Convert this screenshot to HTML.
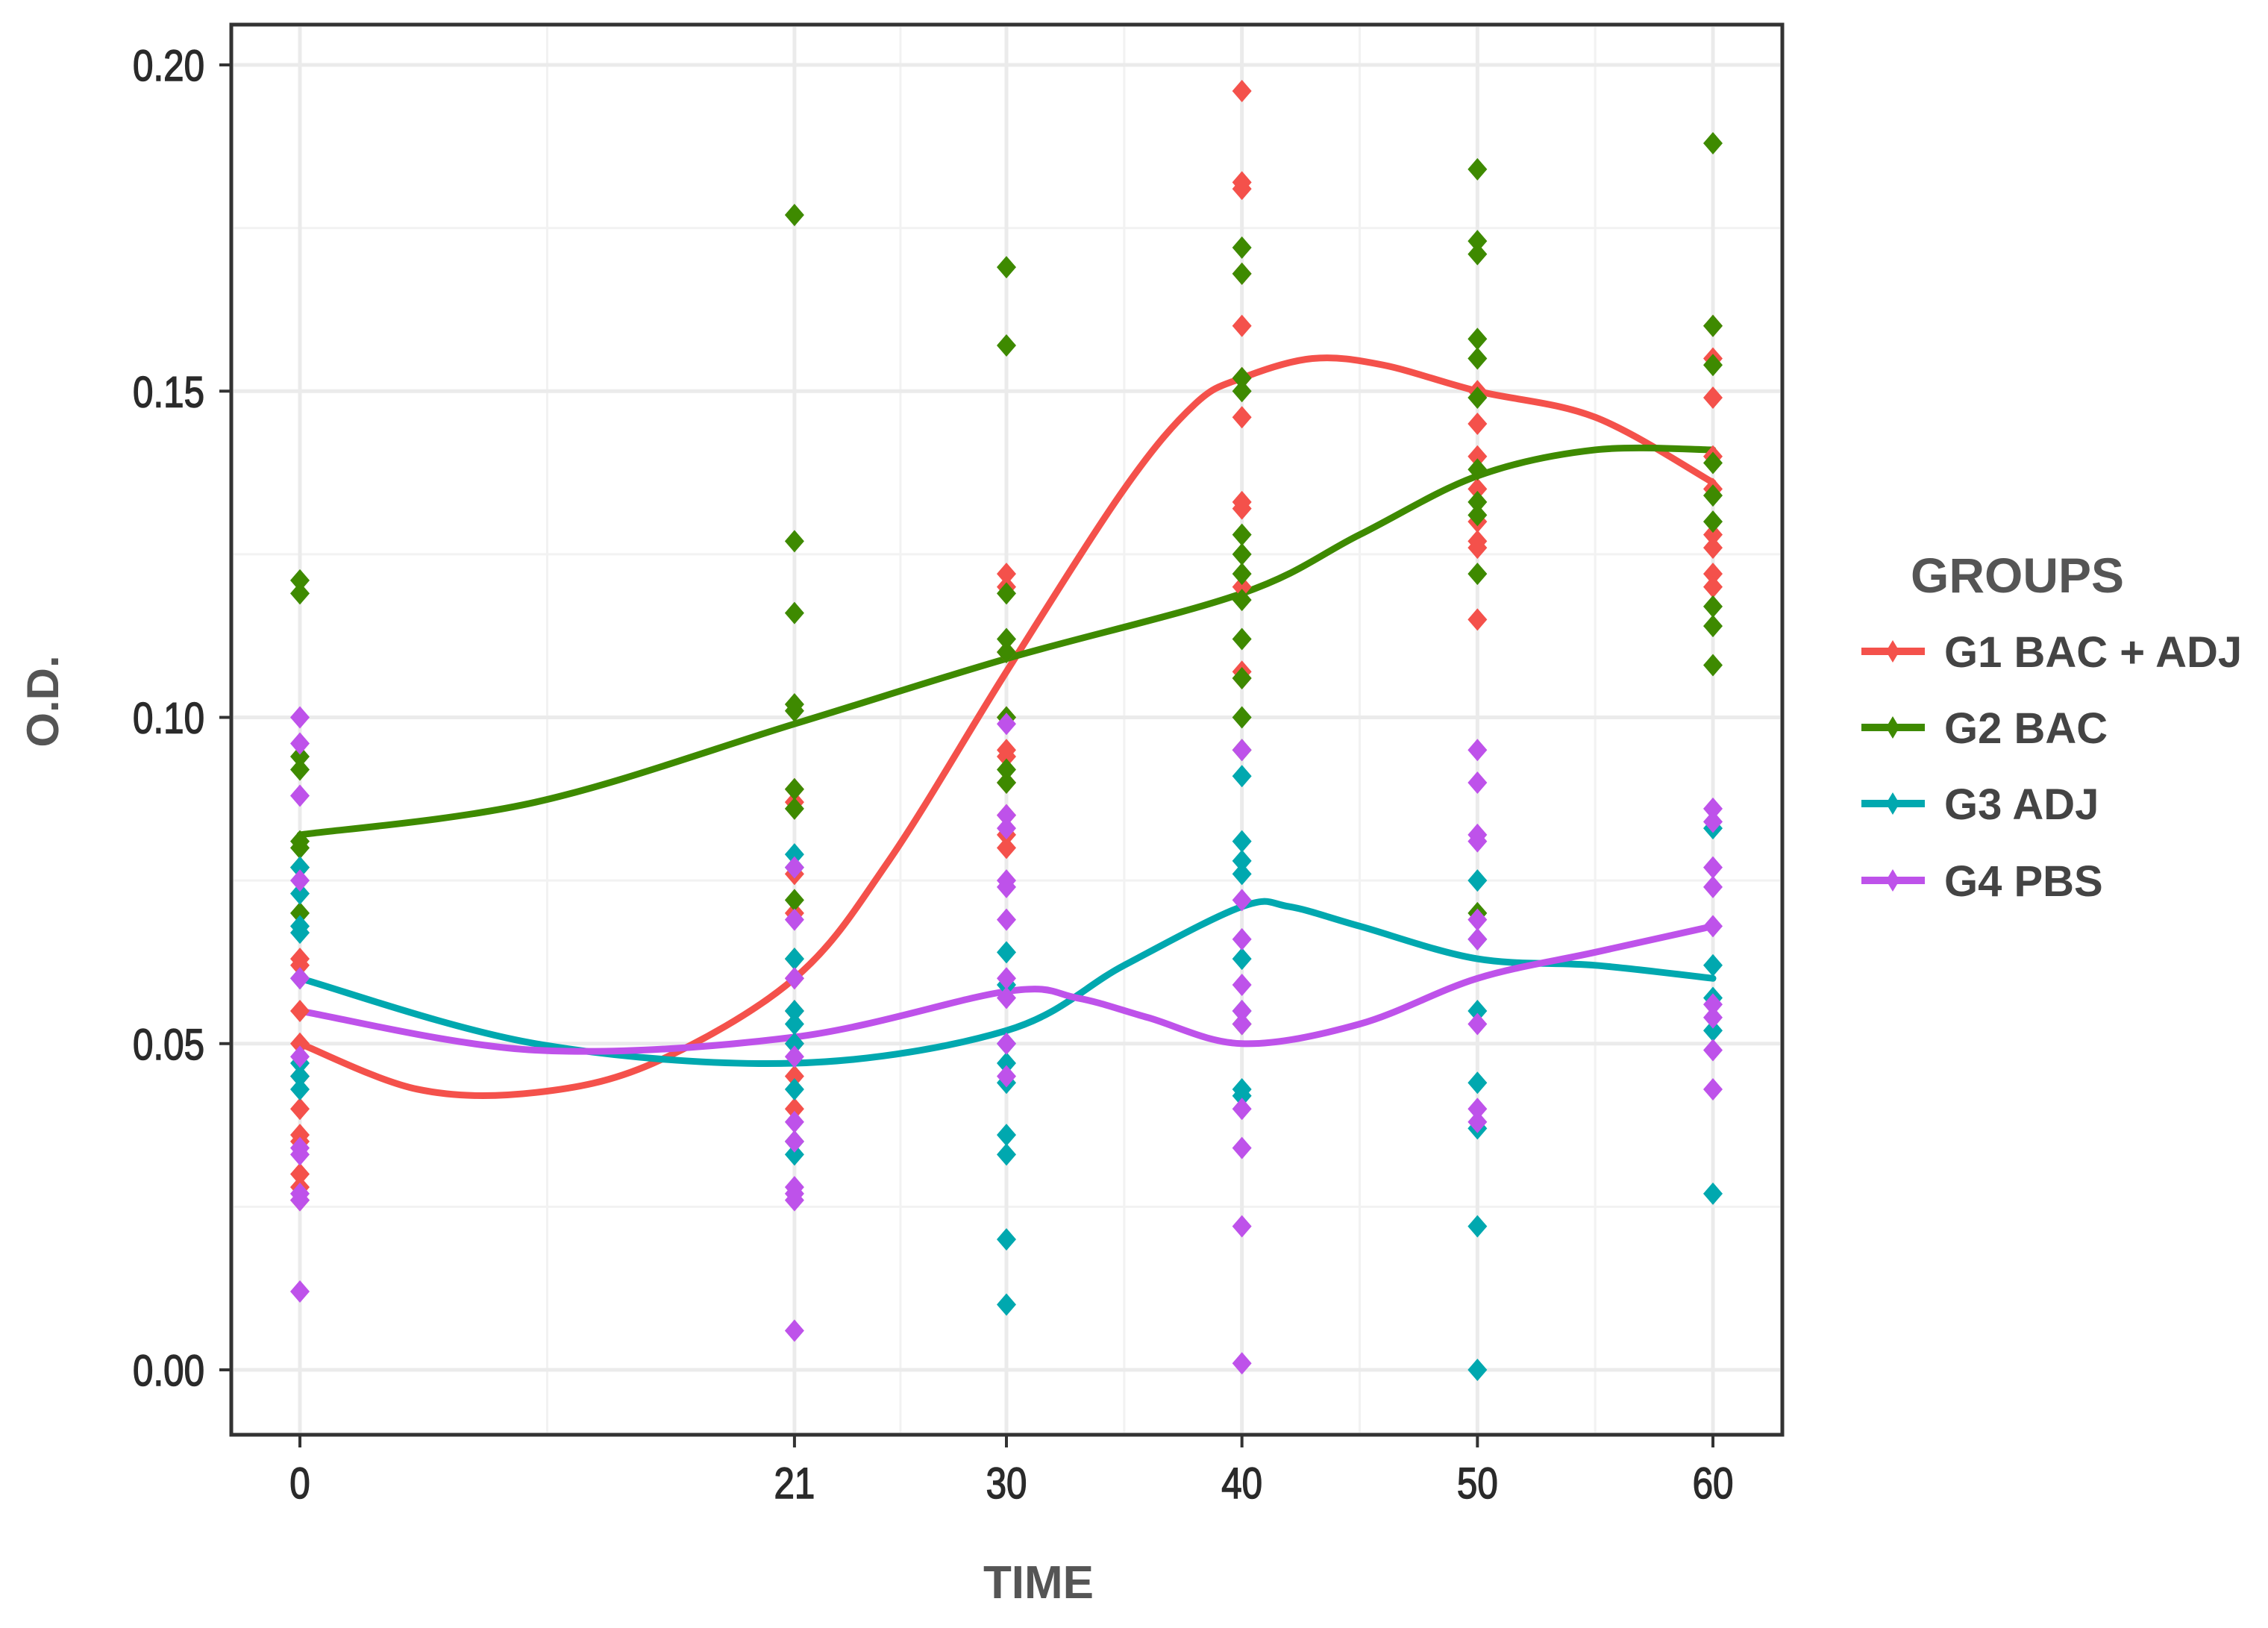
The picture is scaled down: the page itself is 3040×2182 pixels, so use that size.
<!DOCTYPE html>
<html><head><meta charset="utf-8"><style>
html,body{margin:0;padding:0;background:#fff;}
svg{display:block;}
text{font-family:"Liberation Sans",sans-serif;}
</style></head><body>
<svg id="chart" width="3040" height="2182" viewBox="0 0 3040 2182">
<rect x="0" y="0" width="3040" height="2182" fill="#fff"/>
<g id="grid"></g>
<g id="lines"></g>
<g id="pts"></g>
<rect x="310" y="33" width="2079" height="1890" fill="none" stroke="#333" stroke-width="5"/>
<g id="axes"></g>
<text x="0" y="0" transform="translate(78,940) rotate(-90)" text-anchor="middle" font-size="60" font-weight="bold" fill="#555">O.D.</text>
<text x="1392" y="2142" text-anchor="middle" font-size="62" font-weight="bold" fill="#555">TIME</text>
<g id="legend">
<text x="2561" y="794" font-size="66" font-weight="bold" fill="#555">GROUPS</text>
</g>
</svg>
<script>
const timeTicks = [0, 21, 30, 40, 50, 60];
const timeMinor = [10.5, 25.5, 35, 45, 55];
const odTicks = [0, 0.05, 0.10, 0.15, 0.20];
const odTickLabels = ["0.00", "0.05", "0.10", "0.15", "0.20"];
const odMinor = [0.025, 0.075, 0.125, 0.175];
const groupNames = ["G1 BAC + ADJ", "G2 BAC", "G3 ADJ", "G4 PBS"];
const groupColors = ["#F4514B", "#3E8A00", "#00A8AF", "#BE52EA"];

const g1Points = [
 [0.063,0.062,0.055,0.05,0.045,0.04,0.036,0.035,0.03,0.028,0.026],
 [0.089,0.087,0.076,0.07,0.06,0.055,0.05,0.045,0.04,0.035],
 [0.122,0.12,0.11,0.1,0.095,0.094,0.09,0.085,0.082,0.08],
 [0.196,0.182,0.181,0.168,0.16,0.152,0.146,0.133,0.132,0.12,0.107,0.106],
 [0.15,0.145,0.14,0.135,0.127,0.126,0.115,0.13],
 [0.16,0.155,0.149,0.14,0.135,0.128,0.126,0.122,0.12]];
const g2Points = [
 [0.121,0.119,0.094,0.092,0.081,0.08,0.077,0.07],
 [0.177,0.127,0.116,0.102,0.101,0.089,0.086,0.072,0.063],
 [0.169,0.157,0.119,0.112,0.11,0.092,0.09,0.1],
 [0.172,0.168,0.152,0.15,0.128,0.125,0.122,0.118,0.112,0.106,0.1,0.095,0.053],
 [0.184,0.173,0.171,0.158,0.155,0.149,0.138,0.133,0.131,0.122,0.07],
 [0.188,0.16,0.154,0.139,0.134,0.13,0.117,0.114,0.108]];
const g3Points = [
 [0.077,0.073,0.068,0.067,0.06,0.047,0.045,0.043],
 [0.079,0.077,0.063,0.055,0.053,0.05,0.043,0.035,0.033],
 [0.064,0.059,0.05,0.047,0.044,0.036,0.033,0.02,0.01],
 [0.091,0.081,0.078,0.076,0.063,0.055,0.043,0.042],
 [0.075,0.066,0.055,0.044,0.037,0.022,0.0],
 [0.083,0.062,0.057,0.052,0.027]];
const g4Points = [
 [0.1,0.096,0.088,0.075,0.06,0.048,0.034,0.033,0.027,0.026,0.012],
 [0.077,0.069,0.06,0.048,0.038,0.035,0.028,0.027,0.026,0.006],
 [0.099,0.085,0.083,0.075,0.074,0.069,0.06,0.057,0.05,0.045],
 [0.095,0.072,0.066,0.059,0.055,0.053,0.04,0.034,0.022,0.001],
 [0.095,0.09,0.082,0.081,0.069,0.066,0.053,0.04,0.038],
 [0.086,0.084,0.077,0.074,0.068,0.056,0.054,0.049,0.043]];

const g1CurveT = [0,5,10,15,21,25,30,35,38,40,43,46,50,55,60];
const g1CurveV = [0.050,0.043,0.0425,0.047,0.060,0.078,0.107,0.135,0.148,0.152,0.155,0.154,0.150,0.146,0.136];
const g2CurveT = [0,10,21,30,40,45,50,55,60];
const g2CurveV = [0.082,0.087,0.099,0.109,0.119,0.128,0.137,0.141,0.141];
const g3CurveT = [0,10,21,30,35,40,42,45,50,55,60];
const g3CurveV = [0.060,0.050,0.047,0.052,0.062,0.071,0.071,0.068,0.063,0.062,0.060];
const g4CurveT = [0,10,21,30,33,36,40,45,50,55,60];
const g4CurveV = [0.055,0.049,0.051,0.058,0.057,0.054,0.050,0.053,0.060,0.064,0.068];

const NS = "http://www.w3.org/2000/svg";
const X0 = 402, X1 = 2296, Y0 = 1836, Y1 = 87;
function xs(t){ return X0 + (X1 - X0) * t / 60; }
function ys(v){ return Y0 + (Y1 - Y0) * v / 0.20; }
function mk(tag, attrs, parent){
  const e = document.createElementNS(NS, tag);
  for (const k in attrs) e.setAttribute(k, attrs[k]);
  parent.appendChild(e); return e;
}
const grid = document.getElementById('grid');
const axes = document.getElementById('axes');
odMinor.forEach(v => {
  const l = mk('line', {x1:313, x2:2386, y1:ys(v), y2:ys(v), stroke:'#f2f2f2', 'stroke-width':3}, grid);
  
  
});
timeMinor.forEach(t => {
  const l = mk('line', {x1:xs(t), x2:xs(t), y1:36, y2:1920, stroke:'#f2f2f2', 'stroke-width':3}, grid);
  
  
});
odTicks.forEach((v, i) => {
  const l = mk('line', {x1:313, x2:2386, y1:ys(v), y2:ys(v), stroke:'#ebebeb', 'stroke-width':5}, grid);
  
  
  const tk = mk('line', {x1:294, x2:310, y1:ys(v), y2:ys(v), stroke:'#333', 'stroke-width':4}, axes);
  
  
  const tx = mk('text', {x:0, y:0, 'text-anchor':'end', 'font-size':58, fill:'#2a2a2a', stroke:'#2a2a2a', 'stroke-width':1.5,
    transform:'translate(274,' + (ys(v) + 21) + ') scale(0.85,1)'}, axes);
  tx.textContent = odTickLabels[i];
  
  
});
timeTicks.forEach(t => {
  const l = mk('line', {x1:xs(t), x2:xs(t), y1:36, y2:1920, stroke:'#ebebeb', 'stroke-width':5}, grid);
  
  
  const tk = mk('line', {x1:xs(t), x2:xs(t), y1:1923, y2:1940, stroke:'#333', 'stroke-width':4}, axes);
  
  
  const tx = mk('text', {x:0, y:0, 'text-anchor':'middle', 'font-size':58, fill:'#2a2a2a', stroke:'#2a2a2a', 'stroke-width':1.5,
    transform:'translate(' + xs(t) + ',2008) scale(0.85,1)'}, axes);
  tx.textContent = String(t);
  
  
});

function smoothPath(T, V){
  const P = T.map((t, i) => [xs(t), ys(V[i])]);
  let d = 'M' + P[0][0] + ',' + P[0][1];
  for (let i = 0; i < P.length - 1; i++){
    const p0 = P[i-1] || P[i], p1 = P[i], p2 = P[i+1], p3 = P[i+2] || P[i+1];
    const c1 = [p1[0] + (p2[0]-p0[0])/6, p1[1] + (p2[1]-p0[1])/6];
    const c2 = [p2[0] - (p3[0]-p1[0])/6, p2[1] - (p3[1]-p1[1])/6];
    d += ' C' + c1 + ' ' + c2 + ' ' + p2;
  }
  return d;
}
const lines = document.getElementById('lines');
const pts = document.getElementById('pts');
const curvesT = [g1CurveT, g2CurveT, g3CurveT, g4CurveT];
const curvesV = [g1CurveV, g2CurveV, g3CurveV, g4CurveV];
const allPts = [g1Points, g2Points, g3Points, g4Points];
function diamond(cx, cy, w, h){
  return (cx) + ',' + (cy-h) + ' ' + (cx+w) + ',' + cy + ' ' + cx + ',' + (cy+h) + ' ' + (cx-w) + ',' + cy;
}
for (let g = 0; g < 4; g++){
  allPts[g].forEach((arr, ti) => {
    arr.forEach(v => {
      const p = mk('polygon', {points: diamond(xs(timeTicks[ti]), ys(v), 13, 15), fill: groupColors[g]}, pts);
      
      
    });
  });
}
for (let g = 0; g < 4; g++){
  const p = mk('path', {d: smoothPath(curvesT[g], curvesV[g]), fill:'none', stroke: groupColors[g], 'stroke-width':9, 'stroke-linecap':'round'}, lines);
  
  
}
const legend = document.getElementById('legend');
const legY = [873, 975, 1077, 1180];
for (let g = 0; g < 4; g++){
  const l = mk('line', {x1:2495, x2:2580, y1:legY[g], y2:legY[g], stroke: groupColors[g], 'stroke-width':10}, legend);
  
  
  const d = mk('polygon', {points: diamond(2537, legY[g], 9, 15), fill: groupColors[g]}, legend);
  
  
  const t = mk('text', {x:2606, y:legY[g] + 21, 'font-size':58, 'font-weight':'bold', fill:'#444'}, legend);
  t.textContent = groupNames[g];
  
  
}
</script>
</body></html>
